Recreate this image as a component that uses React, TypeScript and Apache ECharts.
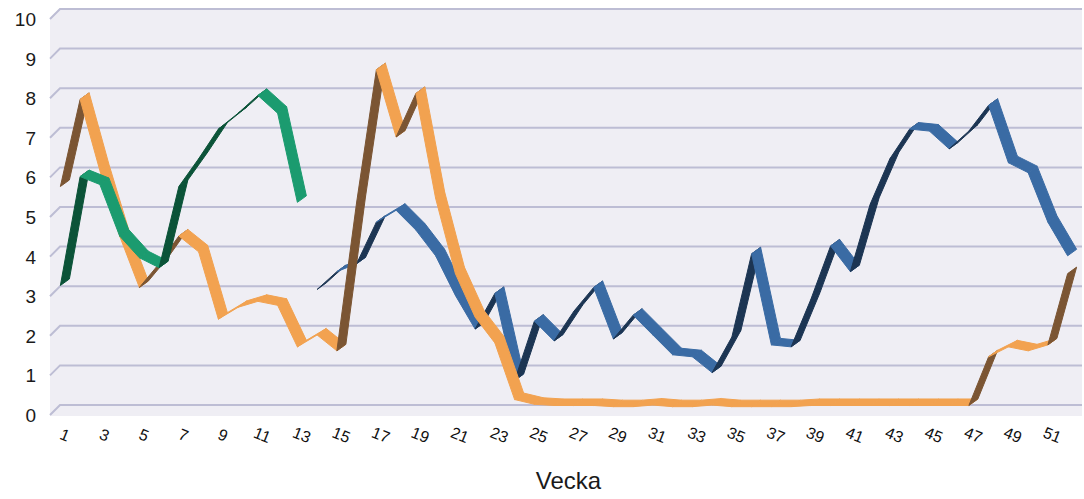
import React, { useEffect, useRef } from "react";
import * as echarts from "echarts";

const weeks: string[] = Array.from({ length: 52 }, (_, i) => String(i + 1));
const yTicks: number[] = [0, 1, 2, 3, 4, 5, 6, 7, 8, 9, 10];

// Green series: weeks 1-13
const greenValues: (number | null)[] = [
  3.1, 5.85, 5.65, 4.35, 3.8, 3.55, 5.6, 6.3, 7.05, 7.45, 7.9, 7.45, 5.2,
  null, null, null, null, null, null, null, null, null, null, null, null, null,
  null, null, null, null, null, null, null, null, null, null, null, null, null,
  null, null, null, null, null, null, null, null, null, null, null, null, null,
];

// Orange series: weeks 1-52
const orangeValues: (number | null)[] = [
  5.6, 7.8, 6.0, 4.35, 3.05, 3.65, 4.35, 3.95, 2.25, 2.55, 2.7, 2.6, 1.55,
  1.85, 1.45, 5.2, 8.55, 6.85, 7.95, 5.3, 3.4, 2.3, 1.65, 0.22, 0.1, 0.07,
  0.07, 0.07, 0.04, 0.04, 0.08, 0.04, 0.04, 0.08, 0.04, 0.04, 0.04, 0.04, 0.07,
  0.07, 0.07, 0.07, 0.07, 0.07, 0.07, 0.07, 0.07, 1.3, 1.55, 1.45, 1.6, 3.4,
];

// Blue series: weeks 14-52
const blueValues: (number | null)[] = [
  null, null, null, null, null, null, null, null, null, null, null, null, null,
  3.0, 3.45, 3.65, 4.7, 5.0, 4.5, 3.85, 2.85, 2.0, 2.9, 0.7, 2.2, 1.7,
  2.45, 3.05, 1.75, 2.35, 1.85, 1.35, 1.3, 0.9, 1.8, 3.9, 1.6, 1.55, 2.75,
  4.1, 3.45, 5.15, 6.3, 7.05, 7.0, 6.55, 7.0, 7.65, 6.2, 5.95, 4.7, 3.85,
];

const W = 1084;
const H = 499;
const GRID_LEFT = 55;
const GRID_RIGHT = 2;
const GRID_TOP = 9;
const GRID_BOTTOM = 94;
const DEPTH_X = 9;
const DEPTH_Y = 6.5;

function segments(values: (number | null)[]) {
  const out: number[][] = [];
  for (let i = 0; i < values.length - 1; i++) {
    const a = values[i];
    const b = values[i + 1];
    if (a != null && b != null) out.push([i, a, b]);
  }
  return out;
}

function ribbonSeries(name: string, values: (number | null)[], light: string, dark: string, z: number) {
  return {
    type: "custom",
    name,
    z,
    data: segments(values),
    encode: { x: 0, y: [1, 2] },
    renderItem: (params: any, api: any) => {
      const x = api.value(0);
      const p0 = api.coord([x, api.value(1)]);
      const p1 = api.coord([x + 1, api.value(2)]);
      const dx = p1[0] - p0[0];
      const dy = p1[1] - p0[1];
      const flipped = dy < (-dx * DEPTH_Y) / DEPTH_X;
      const hx = DEPTH_X / 2;
      const hy = DEPTH_Y / 2;
      const color = flipped ? dark : light;
      return {
        type: "polygon",
        shape: {
          points: [
            [p0[0] - hx, p0[1] + hy],
            [p1[0] - hx, p1[1] + hy],
            [p1[0] + hx, p1[1] - hy],
            [p0[0] + hx, p0[1] - hy],
          ],
        },
        style: { fill: color, stroke: color, lineWidth: 1 },
      };
    },
  };
}

export default function App() {
  const ref = useRef<HTMLDivElement>(null);
  useEffect(() => {
    if (!ref.current) return;
    const chart = echarts.init(ref.current, null, { renderer: "svg" });
    const option: any = {
      animation: false,
      backgroundColor: "#ffffff",
      grid: { left: GRID_LEFT, right: GRID_RIGHT, top: GRID_TOP, bottom: GRID_BOTTOM },
      xAxis: {
        type: "category",
        data: weeks,
        boundaryGap: true,
        name: "Vecka",
        nameLocation: "middle",
        nameGap: 63,
        nameTextStyle: { fontSize: 24, color: "#1a1a1a", fontFamily: "Liberation Sans, Arial, sans-serif" },
        axisLine: { show: false },
        axisTick: { show: false },
        axisLabel: {
          interval: 1,
          rotate: -22,
          align: "center",
          verticalAlign: "middle",
          margin: 30,
          fontSize: 16,
          color: "#111",
          fontFamily: "Liberation Sans, Arial, sans-serif",
        },
        splitLine: { show: false },
      },
      yAxis: {
        type: "value",
        min: 0,
        max: 10,
        interval: 1,
        axisLine: { show: false },
        axisTick: { show: false },
        splitLine: { show: false },
        axisLabel: {
          fontSize: 19,
          color: "#1a1a1a",
          margin: 19,
          verticalAlign: "top",
          lineHeight: 21,
          fontFamily: "Liberation Sans, Arial, sans-serif",
        },
      },
      series: [
        ribbonSeries("Blå", blueValues, "#3A6BA4", "#1C3553", 3),
        ribbonSeries("Orange", orangeValues, "#F2A250", "#7B5533", 4),
        ribbonSeries("Grön", greenValues, "#1B9B6F", "#0B5338", 5),
      ],
    };
    chart.setOption(option);

    const yOf = (v: number) => chart.convertToPixel({ yAxisIndex: 0 }, v) as number;
    const rightX = W - GRID_RIGHT;
    const topY = yOf(10);
    const bottomY = yOf(0);
    const graphics: any[] = [
      {
        type: "polygon",
        z: -10,
        silent: true,
        shape: {
          points: [
            [GRID_LEFT - 5, topY + 10],
            [GRID_LEFT + 5, topY - 1],
            [rightX, topY - 1],
            [rightX, bottomY + 11],
            [GRID_LEFT - 5, bottomY + 11],
          ],
        },
        style: { fill: "#EFEEF4" },
      },
    ];
    yTicks.forEach((v) => {
      const y = yOf(v);
      graphics.push({
        type: "polyline",
        z: -5,
        silent: true,
        shape: { points: [[GRID_LEFT - 5, y + 10], [GRID_LEFT + 5, y], [rightX, y]] },
        style: { stroke: "#BDBDD4", lineWidth: 2, fill: null },
      });
    });
    chart.setOption({ graphic: graphics });

    return () => chart.dispose();
  }, []);
  return (
    <div
      ref={ref}
      style={{ position: "absolute", left: 0, top: 0, width: W, height: H }}
    />
  );
}
